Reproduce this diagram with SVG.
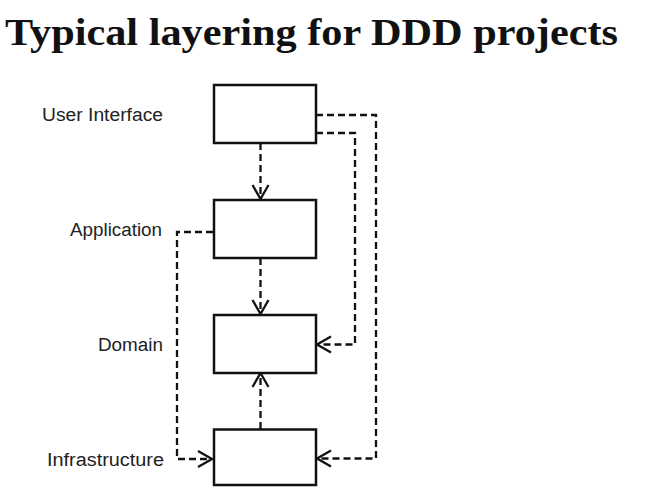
<svg xmlns="http://www.w3.org/2000/svg" width="655" height="495" viewBox="0 0 655 495">
<style>
.box{fill:#fff;stroke:#111;stroke-width:2.5}
.dash{fill:none;stroke:#111;stroke-width:2.3;stroke-dasharray:7 4}
.head{fill:none;stroke:#111;stroke-width:2.3;stroke-linejoin:miter}
.lbl{font-family:"Liberation Sans",Arial,sans-serif;font-size:18px;fill:#222}
.title{font-family:"Liberation Serif","DejaVu Serif",serif;font-weight:bold;font-size:38px;fill:#111}
</style>
<rect width="655" height="495" fill="#fff"/>
<text class="title" x="5" y="45" textLength="613" lengthAdjust="spacingAndGlyphs">Typical layering for DDD projects</text>
<g id="connectors">
  <path class="dash" d="M260.5 143 V197"/>
  <polyline class="head" points="252.5,185 260.5,199 268.5,185"/>
  <path class="dash" d="M260.5 258 V312"/>
  <polyline class="head" points="252.5,300 260.5,314 268.5,300"/>
  <path class="dash" d="M260.5 429 V375"/>
  <polyline class="head" points="252.5,387 260.5,373 268.5,387"/>
  <path class="dash" d="M316 115 H376 V458.5 H318"/>
  <polyline class="head" points="331,450.5 317,458.5 331,466.5"/>
  <path class="dash" d="M316 133 H355 V344.5 H318"/>
  <polyline class="head" points="331,336.5 317,344.5 331,352.5"/>
  <path class="dash" d="M213 232 H177 V459 H211"/>
  <polyline class="head" points="198,451 212,459 198,467"/>
</g>
<g id="ui"><rect class="box" x="214" y="85" width="102" height="58"/><text class="lbl" x="42" y="121" textLength="121" lengthAdjust="spacingAndGlyphs">User Interface</text></g>
<g id="app"><rect class="box" x="214" y="200" width="102" height="58"/><text class="lbl" x="70" y="236" textLength="92" lengthAdjust="spacingAndGlyphs">Application</text></g>
<g id="domain"><rect class="box" x="214" y="315" width="102" height="58"/><text class="lbl" x="98" y="351" textLength="65" lengthAdjust="spacingAndGlyphs">Domain</text></g>
<g id="infra"><rect class="box" x="214" y="429.5" width="102" height="55.5"/><text class="lbl" x="47" y="466" textLength="117" lengthAdjust="spacingAndGlyphs">Infrastructure</text></g>
</svg>
